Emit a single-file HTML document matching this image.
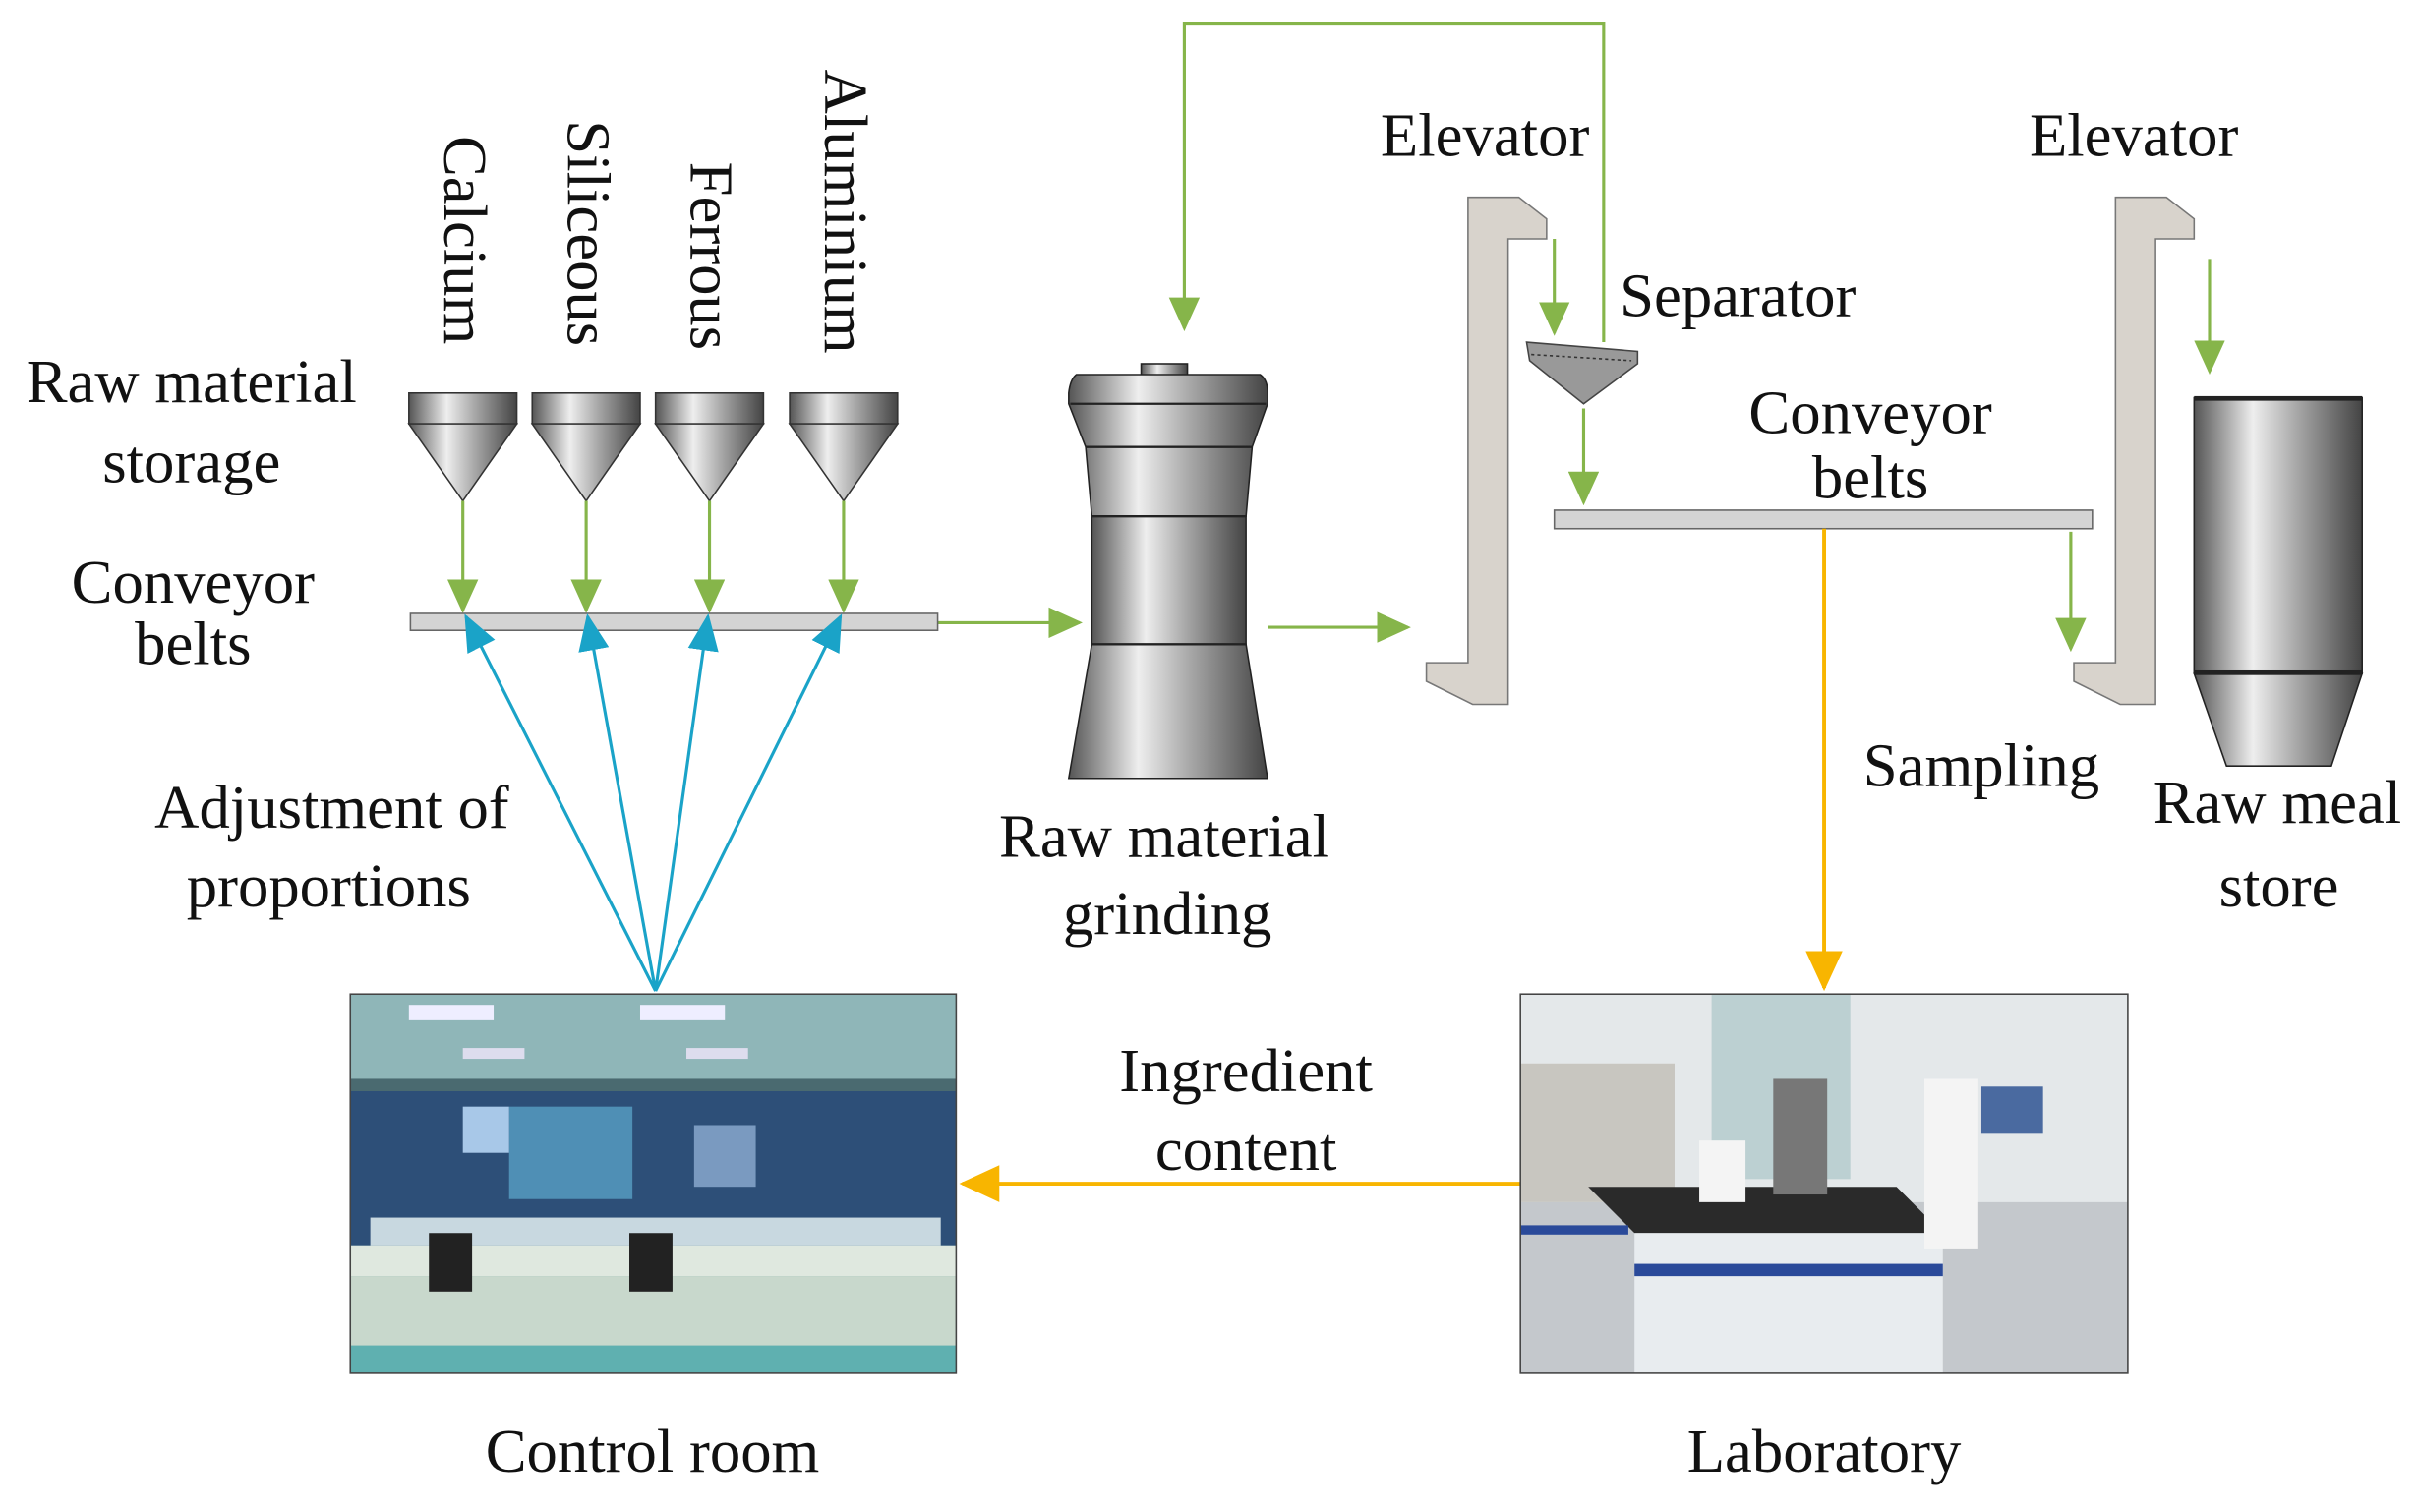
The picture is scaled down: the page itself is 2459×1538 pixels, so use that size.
<!DOCTYPE html>
<html><head><meta charset="utf-8"><style>html,body{margin:0;padding:0;background:#fff}svg{display:block}</style></head><body>
<svg width="2459" height="1538" viewBox="0 0 1568 981" xmlns="http://www.w3.org/2000/svg" font-family="'Liberation Serif', serif" font-size="40">
<defs>
<linearGradient id="metal" x1="0" x2="1" y1="0" y2="0">
<stop offset="0" stop-color="#555"/><stop offset="0.35" stop-color="#eee"/><stop offset="0.6" stop-color="#aaa"/><stop offset="1" stop-color="#444"/></linearGradient>
<marker id="gb" markerWidth="22" markerHeight="20" refX="20" refY="10" orient="auto" markerUnits="userSpaceOnUse"><path d="M0,0 L22,10 L0,20 z" fill="#86b54a"/></marker>
<marker id="b" markerWidth="24" markerHeight="20" refX="22" refY="10" orient="auto" markerUnits="userSpaceOnUse"><path d="M0,0 L24,10 L0,20 z" fill="#1aa3c8"/></marker>
<marker id="o" markerWidth="26" markerHeight="24" refX="24" refY="12" orient="auto" markerUnits="userSpaceOnUse"><path d="M0,0 L26,12 L0,24 z" fill="#f8b500"/></marker>
</defs>
<g fill="url(#metal)" stroke="#333" stroke-width="1">
<g id="h"><rect x="265" y="255" width="70" height="20"/><path d="M265,275 L335,275 L300,325 z"/></g>
<use href="#h" x="80"/><use href="#h" x="160"/><use href="#h" x="247"/>
</g>
<g stroke="#86b54a" stroke-width="2" fill="none">
<line x1="300" y1="325" x2="300" y2="396" marker-end="url(#gb)"/>
<line x1="380" y1="325" x2="380" y2="396" marker-end="url(#gb)"/>
<line x1="460" y1="325" x2="460" y2="396" marker-end="url(#gb)"/>
<line x1="547" y1="325" x2="547" y2="396" marker-end="url(#gb)"/>
<line x1="608" y1="404" x2="700" y2="404" marker-end="url(#gb)"/>
<line x1="822" y1="407" x2="913" y2="407" marker-end="url(#gb)"/>
<line x1="1008" y1="155" x2="1008" y2="216" marker-end="url(#gb)"/>
<line x1="1027" y1="265" x2="1027" y2="326" marker-end="url(#gb)"/>
<polyline points="1040,222 1040,15 768,15 768,213" marker-end="url(#gb)"/>
<line x1="1343" y1="345" x2="1343" y2="421" marker-end="url(#gb)"/>
<line x1="1433" y1="168" x2="1433" y2="241" marker-end="url(#gb)"/>
</g>
<rect x="266" y="398" width="342" height="11" fill="#d4d4d4" stroke="#666"/>
<rect x="1008" y="331" width="349" height="12" fill="#d4d4d4" stroke="#666"/>
<g fill="url(#metal)" stroke="#222">
<rect x="740" y="236" width="30" height="8"/>
<path d="M698,243 L817,243 Q822,246 822,255 L822,262 L812,290 L808,335 L708,335 L704,290 L693,262 L693,255 Q694,246 698,243z"/>
<rect x="708" y="335" width="100" height="83"/>
<path d="M708,418 L808,418 L822,505 L693,505z"/>
</g>
<g stroke="#222" stroke-width="1.5"><line x1="694" y1="262" x2="821" y2="262"/><line x1="704" y1="290" x2="812" y2="290"/><line x1="708" y1="335" x2="808" y2="335"/><line x1="708" y1="418" x2="808" y2="418"/></g>
<g fill="#d8d3cc" stroke="#777">
<path d="M952,128 L985,128 L1003,142 L1003,155 L978,155 L978,457 L955,457 L925,442 L925,430 L952,430 z"/>
<path d="M1372,128 L1405,128 L1423,142 L1423,155 L1398,155 L1398,457 L1375,457 L1345,442 L1345,430 L1372,430 z"/>
</g>
<path d="M990,222 L1062,228 L1062,236 L1027,262 L992,234z" fill="#999" stroke="#444"/>
<line x1="993" y1="230" x2="1058" y2="234" stroke="#333" stroke-dasharray="2,2"/>
<g fill="url(#metal)" stroke="#222">
<rect x="1423" y="258" width="109" height="179"/>
<path d="M1423,437 L1532,437 L1512,497 L1444,497z"/>
</g>
<rect x="1423" y="257" width="109" height="3" fill="#222"/><rect x="1423" y="435" width="109" height="3" fill="#222"/>
<g stroke="#1aa3c8" stroke-width="2" fill="none">
<line x1="425" y1="643" x2="302" y2="400" marker-end="url(#b)"/>
<line x1="425" y1="643" x2="381" y2="400" marker-end="url(#b)"/>
<line x1="425" y1="643" x2="459" y2="400" marker-end="url(#b)"/>
<line x1="425" y1="643" x2="545" y2="400" marker-end="url(#b)"/>
</g>
<g stroke="#f8b500" stroke-width="2.5" fill="none">
<line x1="1183" y1="343" x2="1183" y2="641" marker-end="url(#o)"/>
<line x1="986" y1="768" x2="624" y2="768" marker-end="url(#o)"/>
</g>
<g>
<rect x="227" y="645" width="393" height="246" fill="#7fb3b3"/>
<rect x="227" y="645" width="393" height="60" fill="#8fb6b8"/>
<rect x="265" y="652" width="55" height="10" fill="#eef"/><rect x="415" y="652" width="55" height="10" fill="#eef"/>
<rect x="300" y="680" width="40" height="7" fill="#dde"/><rect x="445" y="680" width="40" height="7" fill="#dde"/>
<rect x="227" y="700" width="393" height="8" fill="#4a6a70"/>
<rect x="227" y="708" width="393" height="100" fill="#2d4f78"/>
<rect x="330" y="718" width="80" height="60" fill="#4f8fb5"/>
<rect x="300" y="718" width="30" height="30" fill="#a8c8e8"/><rect x="450" y="730" width="40" height="40" fill="#7a9ac0"/>
<rect x="240" y="790" width="370" height="18" fill="#c8d8e0"/>
<rect x="227" y="808" width="393" height="20" fill="#dfe8df"/>
<rect x="227" y="828" width="393" height="45" fill="#c8d8cc"/>
<rect x="278" y="800" width="28" height="38" fill="#222"/><rect x="408" y="800" width="28" height="38" fill="#222"/>
<rect x="227" y="873" width="393" height="18" fill="#5fb0b0"/>
<rect x="227" y="645" width="393" height="246" fill="none" stroke="#444"/>
</g>
<g>
<rect x="986" y="645" width="394" height="246" fill="#e4e8ea"/>
<rect x="1110" y="645" width="90" height="120" fill="#bcd0d2"/>
<rect x="986" y="690" width="100" height="90" fill="#c8c6c0"/>
<rect x="1285" y="705" width="40" height="30" fill="#4a6aa0"/>
<rect x="986" y="780" width="394" height="111" fill="#c4c8cc"/>
<path d="M1030,770 L1230,770 L1260,800 L1060,800z" fill="#2a2a2a"/>
<rect x="1060" y="800" width="200" height="91" fill="#e8ecef"/>
<rect x="1060" y="820" width="200" height="8" fill="#2a4a9a"/>
<rect x="986" y="795" width="70" height="6" fill="#2a4a9a"/>
<rect x="1248" y="700" width="35" height="110" fill="#f4f4f4"/>
<rect x="1102" y="740" width="30" height="40" fill="#f4f4f4"/>
<rect x="1150" y="700" width="35" height="75" fill="#777"/>
<rect x="986" y="645" width="394" height="246" fill="none" stroke="#444"/>
</g>
<g fill="#111">
<text transform="translate(288,88) rotate(90)">Calcium</text>
<text transform="translate(368,78) rotate(90)">Siliceous</text>
<text transform="translate(448,105) rotate(90)">Ferrous</text>
<text transform="translate(535,45) rotate(90)">Aluminium</text>
<g text-anchor="middle">
<text x="124" y="261">Raw material</text><text x="124" y="313">storage</text>
<text x="125" y="391">Conveyor</text><text x="125" y="431">belts</text>
<text x="215" y="537">Adjustment of</text><text x="213" y="588">proportions</text>
<text x="755" y="556">Raw material</text><text x="757" y="606">grinding</text>
<text x="963" y="101">Elevator</text><text x="1384" y="101">Elevator</text>
<text x="1127" y="205">Separator</text>
<text x="1213" y="281">Conveyor</text><text x="1213" y="323">belts</text>
<text x="1285" y="510">Sampling</text>
<text x="1477" y="534">Raw meal</text><text x="1478" y="588">store</text>
<text x="808" y="708">Ingredient</text><text x="808" y="759">content</text>
<text x="423" y="955">Control room</text><text x="1183" y="955">Laboratory</text>
</g></g>
</svg>
</body></html>
